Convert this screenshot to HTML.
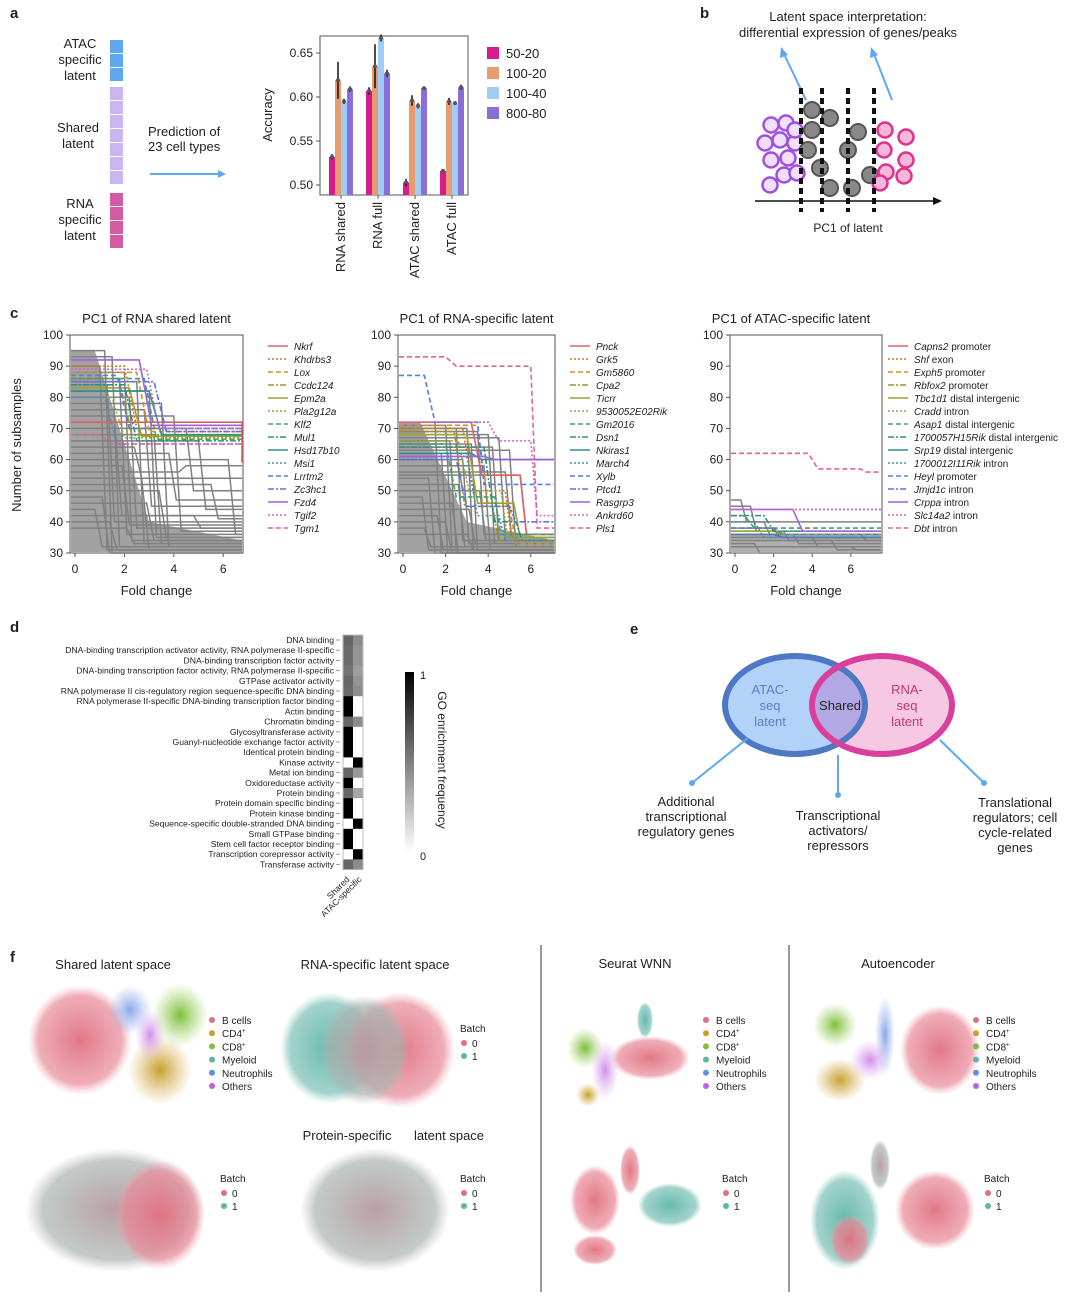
<!DOCTYPE html>
<html><head><meta charset="utf-8"><style>
body{margin:0;background:#fff}
svg{display:block;font-family:"Liberation Sans",sans-serif}
</style></head><body>
<svg id="fig" width="1080" height="1296" viewBox="0 0 1080 1296">
<defs>
<radialGradient id="gPink"><stop offset="0" stop-color="#e07080" stop-opacity=".95"/><stop offset=".8" stop-color="#e88a98" stop-opacity=".7"/><stop offset="1" stop-color="#f0a0b0" stop-opacity="0"/></radialGradient>
<radialGradient id="gTeal"><stop offset="0" stop-color="#5fb5a8" stop-opacity=".95"/><stop offset=".8" stop-color="#7ac0b5" stop-opacity=".7"/><stop offset="1" stop-color="#8cc" stop-opacity="0"/></radialGradient>
<radialGradient id="gMix"><stop offset="0" stop-color="#b89aa0" stop-opacity=".95"/><stop offset=".8" stop-color="#a8b4b0" stop-opacity=".7"/><stop offset="1" stop-color="#bbb" stop-opacity="0"/></radialGradient>
<radialGradient id="gGreen"><stop offset="0" stop-color="#7cbf3a"/><stop offset="1" stop-color="#9cd060" stop-opacity="0"/></radialGradient>
<radialGradient id="gGold"><stop offset="0" stop-color="#c8a030"/><stop offset="1" stop-color="#d8b050" stop-opacity="0"/></radialGradient>
<radialGradient id="gBlue"><stop offset="0" stop-color="#8aa8e8"/><stop offset="1" stop-color="#a0b8f0" stop-opacity="0"/></radialGradient>
<radialGradient id="gViolet"><stop offset="0" stop-color="#d090e8"/><stop offset="1" stop-color="#e0b0f0" stop-opacity="0"/></radialGradient>
<clipPath id="venClip"><ellipse cx="795" cy="705" rx="70" ry="49"/></clipPath>
</defs>
<g id="root"></g>
</svg>
<script>
const NS='http://www.w3.org/2000/svg';
const root=document.getElementById('root');
function mk(tag,attrs,parent,text){const e=document.createElementNS(NS,tag);for(const k in attrs)e.setAttribute(k,attrs[k]);if(text!==undefined)e.textContent=text;(parent||root).appendChild(e);return e;}
function T(x,y,s,size,opts,parent){opts=opts||{};const e=mk('text',Object.assign({x:x,y:y,'font-size':size||12,fill:opts.fill||'#222','text-anchor':opts.a||'start'},opts.extra||{}),parent,s);return e;}

[['a',10,18],['b',700,18],['c',10,318],['d',10,632],['e',630,634],['f',10,962]].forEach(p=>{
 const e=T(p[1],p[2],p[0],15,{extra:{'font-weight':'bold'}});
 
 
});

const gA=mk('g',{});


for(let i=0;i<3;i++)mk('rect',{x:110,y:40+i*14,width:13,height:13,fill:'#5ea8f2'},gA);
for(let i=0;i<7;i++)mk('rect',{x:110,y:87+i*14,width:13,height:13,fill:'#c9b6f0'},gA);
for(let i=0;i<4;i++)mk('rect',{x:110,y:193+i*14,width:13,height:13,fill:'#d45aa5'},gA);
[['ATAC',48],['specific',64],['latent',80]].forEach(t=>T(80,t[1],t[0],13,{a:'middle'},gA));
[['Shared',132],['latent',148]].forEach(t=>T(78,t[1],t[0],13,{a:'middle'},gA));
[['RNA',208],['specific',224],['latent',240]].forEach(t=>T(80,t[1],t[0],13,{a:'middle'},gA));
T(148,136,'Prediction of',13,{},gA);T(148,151,'23 cell types',13,{},gA);
mk('line',{x1:150,y1:174,x2:222,y2:174,stroke:'#5ea8f2','stroke-width':2},gA);
mk('path',{d:'M226 174 L218 170 L218 178 Z',fill:'#5ea8f2'},gA);

const barCats=['RNA shared','RNA full','ATAC shared','ATAC full'];
const barSeries=['50-20','100-20','100-40','800-80'];
const barColors=['#d81b8c','#e89a70','#a0cdf5','#8b6fd8'];
const barVals=[[0.532,0.619,0.595,0.609],[0.607,0.635,0.667,0.627],[0.503,0.596,0.590,0.610],[0.516,0.595,0.593,0.611]];
const barErr=[[0.003,0.021,0.003,0.003],[0.004,0.025,0.004,0.004],[0.004,0.006,0.003,0.002],[0.002,0.004,0.002,0.003]];
const barTicks=[0.50,0.55,0.60,0.65];
const bY=v=>185-(v-0.5)/0.15*132;
const gB=mk('g',{});


mk('path',{d:'M320 36 L320 195 L468 195 L468 36 Z',fill:'none',stroke:'#555','stroke-width':1},gB);
barTicks.forEach(t=>{mk('line',{x1:316,x2:320,y1:bY(t),y2:bY(t),stroke:'#555'},gB);T(313,bY(t)+4,t.toFixed(2),12,{a:'end'},gB);});
T(272,115,'Accuracy',13,{a:'middle',extra:{transform:'rotate(-90 272 115)'}},gB);
barCats.forEach((c,i)=>{
 const gx=329+i*37;
 barVals[i].forEach((v,j)=>{
  const x=gx+j*6;
  const r=mk('rect',{x:x,y:bY(v),width:6,height:195-bY(v),fill:barColors[j]},gB);
  
  
  mk('line',{x1:x+3,x2:x+3,y1:bY(v-barErr[i][j]),y2:bY(v+barErr[i][j]),stroke:'#111','stroke-width':1.5},gB);
  mk('circle',{cx:x+3,cy:bY(v),r:2,fill:'#555'},gB);
 });
 const cx=gx+12;
 mk('line',{x1:cx,x2:cx,y1:195,y2:199,stroke:'#555'},gB);
 T(cx+4,202,c,13,{a:'end',extra:{transform:`rotate(-90 ${cx+4} 202)`}},gB);
});
barSeries.forEach((s,j)=>{
 const y=54+j*20;
 const lg=mk('g',{},gB);
 
 
 mk('rect',{x:487,y:y-7,width:12,height:12,fill:barColors[j]},lg);
 T(506,y+4,s,13,{},lg);
});

const gBb=mk('g',{});


T(848,21,'Latent space interpretation:',13,{a:'middle'},gBb);
T(848,37,'differential expression of genes/peaks',13,{a:'middle'},gBb);
mk('line',{x1:755,y1:201,x2:935,y2:201,stroke:'#111','stroke-width':1.5},gBb);
mk('path',{d:'M942 201 L933 197 L933 205 Z',fill:'#111'},gBb);
T(848,232,'PC1 of latent',12,{a:'middle'},gBb);
mk('line',{x1:806,y1:100,x2:784,y2:54,stroke:'#5ea8f2','stroke-width':2},gBb);
mk('path',{d:'M781 47 L780 58 L788 55 Z',fill:'#5ea8f2'},gBb);
mk('line',{x1:892,y1:100,x2:874,y2:54,stroke:'#5ea8f2','stroke-width':2},gBb);
mk('path',{d:'M871 47 L870 58 L878 55 Z',fill:'#5ea8f2'},gBb);
[[771,125],[786,123],[765,143],[780,140],[795,143],[771,160],[788,158],[784,175],[770,185],[795,130],[797,173]].forEach(p=>mk('circle',{cx:p[0],cy:p[1],r:7.5,fill:'#f0e0ff',stroke:'#a050e0','stroke-width':2.5},gBb));
[[812,110],[812,130],[830,118],[858,132],[848,150],[820,168],[830,188],[852,188],[870,175],[808,150]].forEach(p=>mk('circle',{cx:p[0],cy:p[1],r:8,fill:'#888',stroke:'#555','stroke-width':2},gBb));
[[885,130],[906,137],[884,150],[906,160],[886,172],[904,176],[880,183]].forEach(p=>mk('circle',{cx:p[0],cy:p[1],r:7.5,fill:'#f6b8d8',stroke:'#e03090','stroke-width':2.5},gBb));
[801,822,848,874].forEach(x=>mk('line',{x1:x,x2:x,y1:88,y2:212,stroke:'#111','stroke-width':4,'stroke-dasharray':'6 4'},gBb));

const cTicksY=[30,40,50,60,70,80,90,100];
const cTicksX=[0,2,4,6];
const lineStyles=[['#e06060',''],['#e07020','2 2'],['#d09020','5 3'],['#a09020','6 2 2 2'],['#a0a030',''],['#80b040','2 2'],['#40a060','5 3'],['#309080','6 2 2 2'],['#309090',''],['#4090c0','2 2'],['#5080e0','5 3'],['#6070e0','6 2 2 2'],['#a060e0',''],['#d060d0','2 2'],['#e060a0','5 3']];
const grey1=[[95,1.2,30],[93,1.5,32],[90,1.0,31],[88,2.0,34],[86,1.8,36],[85,2.5,33],[84,1.3,40],[82,3.0,35],[80,2.2,38],[78,3.5,32],[76,2.8,45],[74,4.0,37],[72,1.6,42],[70,4.5,50],[68,3.2,33],[66,5.0,44],[64,2.4,54],[62,3.8,47],[60,6.2,36],[58,1.9,39],[56,4.2,58],[54,2.7,31],[52,5.5,41],[50,3.4,35],[48,1.1,30],[46,2.9,34],[44,0.8,32],[42,4.8,38],[40,1.4,31],[38,2.1,33]];
const grey2=[[72,1.5,30],[71,2.0,32],[70,2.5,34],[70,3.0,31],[69,3.5,36],[68,4.0,33],[67,4.5,35],[66,2.2,30],[65,3.2,31],[64,4.2,34],[63,5.0,32],[62,1.8,30],[60,2.8,33],[58,3.8,31],[56,4.8,35],[55,5.5,36],[54,1.2,30],[52,2.6,32],[50,3.6,34],[48,0.9,31],[46,2.3,30],[44,3.1,33],[42,1.6,31],[40,2.0,30],[38,1.0,32],[36,3.0,31]];
const grey3=[[47,0.3,40],[45,0.8,37],[40,1.5,36],[38,2.0,35],[37,2.5,34],[36,3.0,33],[35,4.0,32],[34,5.0,31],[33,1.0,30],[32,6.0,31],[36,6.5,34]];
const col1=[[72,7.0,71,7.0,59],[90,2.0,70,7,70],[88,2.5,69,7,69],[85,1.8,68,7,68],[83,2.2,67.5,7,67.5],[80,1.5,67,7,67],[86,2.8,66.5,7,66.5],[84,2.0,66,7,66],[82,3.0,68,7,68],[80,1.2,65,7,65],[87,1.7,70,7,70],[85,3.2,69,7,69],[92,2.6,71,7,71],[89,2.9,70,7,70],[68,1.0,65,7,65]];
const col2=[[72,3.2,55,5.5,36],[70,2.8,50,4.8,34],[71,3.5,45,5.0,33],[69,2.4,45,4.2,34],[68,3.0,46,5.2,35],[66,2.6,50,4.6,35],[65,2.0,48,4.3,36],[64,3.8,40,5.3,34],[62,3.2,60,6.5,60],[61,3.0,42,4.5,34],[87,1.0,72,3.5,52],[60,2.5,45,5.0,40],[61,3.8,60,6.8,60],[72,4.0,66,6.0,42],[93,2.0,90,6.0,38]];
const col3=[[36,2,35,7,35],[36,2,35,7,35],[36,2,35,7,35],[37,2,36,7,36],[37,2,36,7,36],[38,2,36,7,36],[42,0.5,38,7,38],[42,1.5,37,7,37],[36,2,35,7,35],[40,1,35,7,35],[38,2,36,7,36],[36,2,35,7,35],[44,3.0,37,7,37],[44,3.0,44,7,44],[62,3.8,57,6.5,56]];
const genes1=['Nkrf','Khdrbs3','Lox','Ccdc124','Epm2a','Pla2g12a','Klf2','Mul1','Hsd17b10','Msi1','Lrrtm2','Zc3hc1','Fzd4','Tgif2','Tgm1'];
const genes2=['Pnck','Grk5','Gm5860','Cpa2','Ticrr','9530052E02Rik','Gm2016','Dsn1','Nkiras1','March4','Xylb','Ptcd1','Rasgrp3','Ankrd60','Pls1'];
const genes3=['Capns2 promoter','Shf exon','Exph5 promoter','Rbfox2 promoter','Tbc1d1 distal intergenic','Cradd intron','Asap1 distal intergenic','1700057H15Rik distal intergenic','Srp19 distal intergenic','1700012I11Rik intron','Heyl promoter','Jmjd1c intron','Crppa intron','Slc14a2 intron','Dbt intron'];
const cPlots=[
 {title:'PC1 of RNA shared latent',L:70,R:243,x0:75,ux:24.7,grey:grey1,col:col1,genes:genes1,lx:268},
 {title:'PC1 of RNA-specific latent',L:398,R:555,x0:403,ux:21.3,grey:grey2,col:col2,genes:genes2,lx:570},
 {title:'PC1 of ATAC-specific latent',L:730,R:882,x0:735,ux:19.3,grey:grey3,col:col3,genes:genes3,lx:888}];
const cy=v=>553-(v-30)/70*218;
cPlots.forEach((p,pi)=>{
 const g=mk('g',{});
 
 
 const cx=v=>Math.min(p.R-1,p.x0+v*p.ux);
 T((p.L+p.R)/2+(pi==2?-15:0),323,p.title,13,{a:'middle'},g);
 mk('rect',{x:p.L,y:335,width:p.R-p.L,height:218,fill:'none',stroke:'#555'},g);
 cTicksY.forEach(t=>{mk('line',{x1:p.L-4,x2:p.L,y1:cy(t),y2:cy(t),stroke:'#555'},g);T(p.L-7,cy(t)+4,String(t),12,{a:'end'},g);});
 cTicksX.forEach(t=>{mk('line',{x1:cx(t),x2:cx(t),y1:553,y2:557,stroke:'#555'},g);T(cx(t),573,String(t),12,{a:'middle'},g);});
 T((p.L+p.R)/2,595,'Fold change',13,{a:'middle'},g);
 const xe=p.R-1;
 if(pi<2){
  const top=Math.max(...p.grey.map(d=>d[0]));
  mk('path',{d:`M${p.L+1} ${cy(top)} L${cx(0.8)} ${cy(top)} L${cx(3.0)} ${cy(40)} L${xe} ${cy(34)} L${xe} 552 L${p.L+1} 552 Z`,fill:'#7a7a7a',opacity:0.7},g);
 } else {
  mk('rect',{x:p.L+1,y:cy(36),width:xe-p.L-1,height:552-cy(36),fill:'#7a7a7a',opacity:0.6},g);
 }
 p.grey.forEach(d=>{
  mk('polyline',{points:`${p.L+1},${cy(d[0])} ${cx(d[1])},${cy(d[0])} ${cx(d[1]+0.3)},${cy(d[2])} ${xe},${cy(d[2])}`,fill:'none',stroke:'#808080','stroke-width':1.5},g);
 });
 p.col.forEach((d,k)=>{
  const st=lineStyles[k];
  const l=mk('polyline',{points:`${p.L+1},${cy(d[0])} ${cx(d[1])},${cy(d[0])} ${cx(d[1]+0.5)},${cy(d[2])} ${cx(d[3])},${cy(d[2])} ${cx(d[3]+0.3)},${cy(d[4])} ${xe},${cy(d[4])}`,fill:'none',stroke:st[0],'stroke-width':1.6,'stroke-dasharray':st[1]},g);
  
  
 });
 p.genes.forEach((n,k)=>{
  const y=346+k*13;const st=lineStyles[k];
  const lg=mk('g',{},g);
  
  
  mk('line',{x1:p.lx,x2:p.lx+20,y1:y,y2:y,stroke:st[0],'stroke-width':1.5,'stroke-dasharray':st[1]},lg);
  const parts=n.split(' ');
  const t=T(p.lx+26,y+4,'',10,{},lg);
  mk('tspan',{'font-style':'italic'},t,parts[0]);
  if(parts.length>1)mk('tspan',{},t,' '+parts.slice(1).join(' '));
 });
});
const yl=T(21,445,'Number of subsamples',13,{a:'middle',extra:{transform:'rotate(-90 21 445)'}});



const goTerms=['DNA binding','DNA-binding transcription activator activity, RNA polymerase II-specific','DNA-binding transcription factor activity','DNA-binding transcription factor activity, RNA polymerase II-specific','GTPase activator activity','RNA polymerase II cis-regulatory region sequence-specific DNA binding','RNA polymerase II-specific DNA-binding transcription factor binding','Actin binding','Chromatin binding','Glycosyltransferase activity','Guanyl-nucleotide exchange factor activity','Identical protein binding','Kinase activity','Metal ion binding','Oxidoreductase activity','Protein binding','Protein domain specific binding','Protein kinase binding','Sequence-specific double-stranded DNA binding','Small GTPase binding','Stem cell factor receptor binding','Transcription corepressor activity','Transferase activity'];
const goShared=[0.6,0.58,0.58,0.55,0.6,0.58,1,1,0.6,1,1,1,0,0.6,1,0.6,1,1,0,1,1,0,0.6];
const goAtac=[0.45,0.42,0.42,0.38,0.42,0.45,0,0,0.45,0,0,0,1,0.4,0,0.35,0,0,1,0,0,1,0.45];
const gD=mk('g',{});


const rowH=10.2;
const gray=v=>{const c=Math.round(255*(1-v));return `rgb(${c},${c},${c})`;};
goTerms.forEach((t,i)=>{
 const y=635+i*rowH;
 T(334,y+8,t,8.6,{a:'end'},gD);
 mk('line',{x1:336,x2:340,y1:y+5,y2:y+5,stroke:'#999'},gD);
 const c1=mk('rect',{x:343,y:y,width:10,height:rowH+0.3,fill:gray(goShared[i])},gD);
 
 
 const c2=mk('rect',{x:353,y:y,width:10,height:rowH+0.3,fill:gray(goAtac[i])},gD);
 
 
});
mk('rect',{x:343,y:635,width:20,height:goTerms.length*rowH,fill:'none',stroke:'#bbb'},gD);
T(350,880,'Shared',8.6,{a:'end',extra:{transform:'rotate(-45 350 880)'}},gD);
T(362,880,'ATAC-specific',8.6,{a:'end',extra:{transform:'rotate(-45 362 880)'}},gD);
const lgr=mk('linearGradient',{id:'cbar',x1:0,y1:0,x2:0,y2:1},mk('defs',{},gD));
mk('stop',{offset:0,'stop-color':'#000'},lgr);mk('stop',{offset:1,'stop-color':'#fff'},lgr);
const cb=mk('rect',{x:405,y:672,width:9,height:180,fill:'url(#cbar)'},gD);


T(420,679,'1',11,{},gD);T(420,860,'0',11,{},gD);
T(438,760,'GO enrichment frequency',12,{a:'middle',extra:{transform:'rotate(90 438 760)'}},gD);

const gE=mk('g',{});


mk('ellipse',{cx:882,cy:705,rx:70,ry:49,fill:'#f6c8e2'},gE);
mk('ellipse',{cx:795,cy:705,rx:70,ry:49,fill:'#b2d2fa'},gE);
mk('ellipse',{cx:882,cy:705,rx:70,ry:49,fill:'#b2a8e4','clip-path':'url(#venClip)'},gE);
mk('ellipse',{cx:795,cy:705,rx:70,ry:49,fill:'none',stroke:'#4e78c4','stroke-width':6},gE);
mk('ellipse',{cx:882,cy:705,rx:70,ry:49,fill:'none',stroke:'#d8409c','stroke-width':6},gE);
[['ATAC-',694],['seq',710],['latent',726]].forEach(t=>T(770,t[1],t[0],13,{a:'middle',fill:'#5b80c8'},gE));
[['RNA-',694],['seq',710],['latent',726]].forEach(t=>T(907,t[1],t[0],13,{a:'middle',fill:'#c03a6a'},gE));
T(840,710,'Shared',13,{a:'middle'},gE);
[[748,738,692,783],[838,755,838,795],[940,740,984,783]].forEach(a=>{
 mk('line',{x1:a[0],y1:a[1],x2:a[2],y2:a[3],stroke:'#5ea8f2','stroke-width':2},gE);
 mk('circle',{cx:a[2],cy:a[3],r:3,fill:'#5ea8f2'},gE);
});
[['Additional',806],['transcriptional',821],['regulatory genes',836]].forEach(t=>T(686,t[1],t[0],13,{a:'middle'},gE));
[['Transcriptional',820],['activators/',835],['repressors',850]].forEach(t=>T(838,t[1],t[0],13,{a:'middle'},gE));
[['Translational',807],['regulators; cell',822],['cycle-related',837],['genes',852]].forEach(t=>T(1015,t[1],t[0],13,{a:'middle'},gE));

const gF=mk('g',{});


mk('line',{x1:541,x2:541,y1:945,y2:1292,stroke:'#333'},gF);
mk('line',{x1:789,x2:789,y1:945,y2:1292,stroke:'#333'},gF);
T(113,969,'Shared latent space',13,{a:'middle'},gF);
T(375,969,'RNA-specific latent space',13,{a:'middle'},gF);
T(635,968,'Seurat WNN',13,{a:'middle'},gF);
T(898,968,'Autoencoder',13,{a:'middle'},gF);
T(347,1140,'Protein-specific',13,{a:'middle'},gF);
T(449,1140,'latent space',13,{a:'middle'},gF);
function blob(cx,cy,rx,ry,g){mk('ellipse',{cx:cx,cy:cy,rx:rx,ry:ry,fill:'url(#'+g+')'},gF);}
blob(80,1040,52,55,'gPink');blob(180,1015,28,32,'gGreen');blob(160,1070,32,35,'gGold');blob(130,1010,22,25,'gBlue');blob(150,1035,15,25,'gViolet');
blob(330,1048,50,56,'gTeal');blob(400,1050,55,58,'gPink');blob(365,1050,45,55,'gMix');
blob(115,1210,90,62,'gMix');blob(160,1215,45,55,'gPink');
blob(375,1210,75,62,'gMix');
blob(650,1058,40,22,'gPink');blob(585,1048,18,20,'gGreen');blob(588,1095,12,12,'gGold');blob(605,1070,14,30,'gViolet');blob(645,1020,8,18,'gTeal');
blob(595,1200,25,35,'gPink');blob(670,1205,32,22,'gTeal');blob(630,1170,10,25,'gPink');blob(595,1250,22,15,'gPink');
blob(940,1050,40,45,'gPink');blob(835,1025,22,22,'gGreen');blob(840,1080,26,22,'gGold');blob(885,1035,10,40,'gBlue');blob(870,1060,20,20,'gViolet');
blob(845,1220,35,50,'gTeal');blob(935,1210,40,40,'gPink');blob(850,1240,20,25,'gPink');blob(880,1165,10,25,'gMix');
const ctypes=['B cells','CD4+','CD8+','Myeloid','Neutrophils','Others'];
const ccols=['#e07080','#c8a030','#7cbf3a','#5fb5a8','#6090e0','#c060e0'];
[[212,1020],[706,1020],[976,1020]].forEach(p=>ctypes.forEach((c,i)=>{
 const y=p[1]+i*13.2;
 const lg=mk('g',{},gF);
 
 
 mk('circle',{cx:p[0],cy:y,r:3,fill:ccols[i]},lg);
 const t=T(p[0]+10,y+4,'',10,{},lg);
 if(c.endsWith('+')){mk('tspan',{},t,c.slice(0,-1));mk('tspan',{'font-size':6,dy:-4},t,'+');}
 else t.textContent=c;
}));
[[460,1028],[220,1178],[460,1178],[722,1178],[984,1178]].forEach(p=>{
 const lg=mk('g',{},gF);
 
 
 T(p[0],p[1]+4,'Batch',10,{},lg);
 mk('circle',{cx:p[0]+4,cy:p[1]+15,r:3,fill:'#e07080'},lg);T(p[0]+12,p[1]+19,'0',10,{},lg);
 mk('circle',{cx:p[0]+4,cy:p[1]+28,r:3,fill:'#5fb5a8'},lg);T(p[0]+12,p[1]+32,'1',10,{},lg);
});
</script>
</body></html>
